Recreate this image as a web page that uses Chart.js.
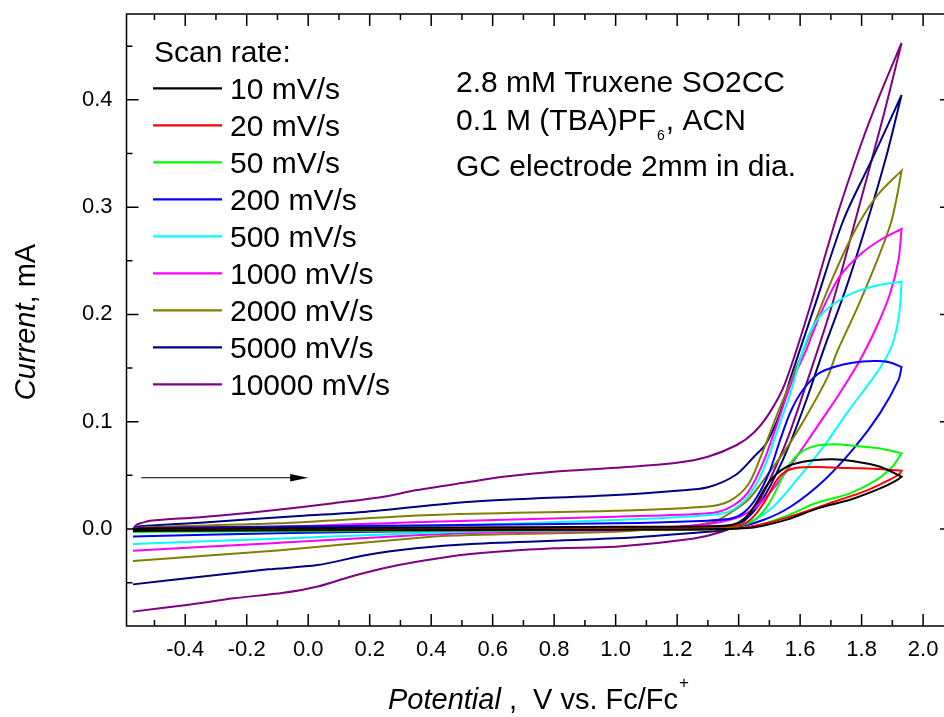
<!DOCTYPE html>
<html>
<head>
<meta charset="utf-8">
<script src="https://cdn.jsdelivr.net/npm/chart.js@4.4.1/dist/chart.umd.min.js"></script>
<style>
html,body{margin:0;padding:0;overflow:hidden;background:#fff;width:944px;height:717px}
#wrap{position:absolute;left:0;top:0;width:960px;height:717px}
canvas{display:block}
</style>
</head>
<body>
<div id="wrap"><canvas id="c" width="960" height="717" style="width:960px;height:717px"></canvas></div>
<script>
// ---------------- data ----------------
const scanRates = ['10 mV/s','20 mV/s','50 mV/s','200 mV/s','500 mV/s','1000 mV/s','2000 mV/s','5000 mV/s','10000 mV/s'];
const lineColors = ['#000000','#ff0000','#00ff00','#0000ff','#00ffff','#ff00ff','#808000','#000080','#800080'];

const xTickValues = [-0.4,-0.2,0.0,0.2,0.4,0.6,0.8,1.0,1.2,1.4,1.6,1.8,2.0];
const xMinorValues = [-0.5,-0.3,-0.1,0.1,0.3,0.5,0.7,0.9,1.1,1.3,1.5,1.7,1.9];
const yTickValues = [0.0,0.1,0.2,0.3,0.4];
const yMinorValues = [-0.05,0.05,0.15,0.25,0.35,0.45];

// [potential V, current mA]  forward scan then reverse scan
const cv10 = [[-0.57,0],[-0.5,0.0005],[0,0.001],[0.5,0.0015],[1.0,0.002],[1.3,0.0025],[1.38,0.004],[1.42,0.01],[1.45,0.021],[1.5,0.044],[1.55,0.057],[1.61,0.0627],[1.7,0.065],[1.77,0.0634],[1.86,0.058],[1.93,0.0488],
  [1.93,0.0488],[1.915,0.0455],[1.87,0.039],[1.77,0.028],[1.66,0.0195],[1.56,0.009],[1.5,0.0045],[1.44,0.0012],[1.3,-0.0003],[1.0,-0.0006],[0.5,-0.0009],[0,-0.0012],[-0.5,-0.0016],[-0.57,-0.0018]];
const cv20 = [[-0.57,0],[-0.5,0.0004],[0,0.0008],[0.5,0.0012],[1.0,0.0016],[1.3,0.002],[1.41,0.004],[1.45,0.012],[1.49,0.028],[1.52,0.044],[1.55,0.053],[1.59,0.057],[1.65,0.0578],[1.76,0.0568],[1.87,0.0558],[1.93,0.0543],
  [1.93,0.0543],[1.922,0.051],[1.89,0.0457],[1.82,0.0363],[1.71,0.0254],[1.6,0.0146],[1.49,0.0053],[1.4,0.0007],[1.3,-0.0002],[1.0,-0.0004],[0.5,-0.0006],[0,-0.0008],[-0.5,-0.0011],[-0.57,-0.0013]];
const cv50 = [[-0.57,0],[-0.54,-0.0006],[0,-0.0004],[0.5,0.0],[1.0,0.0005],[1.3,0.001],[1.4,0.003],[1.45,0.008],[1.49,0.02],[1.52,0.035],[1.56,0.058],[1.6,0.071],[1.65,0.0775],[1.71,0.079],[1.78,0.0775],[1.86,0.075],[1.93,0.0705],
  [1.93,0.0705],[1.915,0.064],[1.9,0.058],[1.85,0.046],[1.76,0.033],[1.65,0.024],[1.55,0.0115],[1.44,0.002],[1.3,-0.0005],[1.0,-0.001],[0.5,-0.0015],[0,-0.002],[-0.5,-0.0025],[-0.57,-0.003]];
const cv200 = [[-0.57,0],[-0.55,0.0008],[-0.5,0.0012],[0,0.0025],[0.5,0.0038],[1.0,0.0053],[1.3,0.0078],[1.38,0.01],[1.42,0.016],[1.46,0.03],[1.5,0.053],[1.535,0.083],[1.57,0.11],[1.61,0.13],[1.66,0.145],[1.71,0.151],[1.77,0.155],[1.84,0.1565],[1.89,0.1555],[1.93,0.151],
  [1.93,0.151],[1.92,0.139],[1.86,0.108],[1.78,0.077],[1.68,0.046],[1.57,0.021],[1.48,0.0084],[1.39,0.002],[1.2,0.0],[1.0,-0.0005],[0.5,-0.0015],[-0.1,-0.004],[-0.57,-0.007]];
const cv500 = [[-0.57,0],[-0.54,0.0003],[-0.1,0.0008],[0.4,0.0028],[1.0,0.0084],[1.2,0.011],[1.3,0.013],[1.37,0.0165],[1.43,0.03],[1.48,0.055],[1.53,0.095],[1.57,0.128],[1.6,0.158],[1.63,0.182],[1.67,0.2],[1.72,0.212],[1.78,0.221],[1.85,0.227],[1.93,0.2305],
  [1.93,0.2305],[1.922,0.2],[1.9,0.172],[1.86,0.15],[1.817,0.133],[1.752,0.108],[1.676,0.0767],[1.589,0.0457],[1.513,0.0208],[1.448,0.0084],[1.372,0.0021],[1.2,0.0],[1.0,-0.001],[0.5,-0.0025],[-0.1,-0.009],[-0.57,-0.014]];
const cv1000 = [[-0.57,0],[-0.54,0.0008],[-0.1,0.002],[0.4,0.0068],[1.0,0.0115],[1.3,0.0146],[1.37,0.02],[1.43,0.034],[1.48,0.062],[1.53,0.102],[1.57,0.135],[1.62,0.167],[1.654,0.192],[1.69,0.215],[1.73,0.236],[1.8,0.257],[1.87,0.271],[1.93,0.2796],
  [1.93,0.2796],[1.92,0.2507],[1.893,0.2197],[1.849,0.1885],[1.795,0.1575],[1.752,0.137],[1.714,0.12],[1.676,0.104],[1.611,0.0767],[1.535,0.0457],[1.47,0.024],[1.405,0.0115],[1.318,0.0053],[1.2,0.002],[1.0,-0.0015],[0.5,-0.004],[-0.1,-0.013],[-0.57,-0.0202]];
const cv2000 = [[-0.57,0],[-0.54,0.0015],[-0.1,0.0053],[0.4,0.013],[1.0,0.017],[1.3,0.021],[1.37,0.026],[1.43,0.041],[1.47,0.066],[1.52,0.103],[1.57,0.138],[1.63,0.18],[1.7,0.23],[1.76,0.268],[1.81,0.294],[1.86,0.314],[1.93,0.334],
  [1.93,0.334],[1.915,0.31],[1.895,0.285],[1.85,0.25],[1.784,0.205],[1.72,0.165],[1.69,0.142],[1.63,0.11],[1.56,0.077],[1.49,0.049],[1.43,0.027],[1.37,0.0146],[1.32,0.0068],[1.21,0.002],[1.0,-0.0025],[0.53,-0.0056],[0.4,-0.0072],[-0.1,-0.02],[-0.57,-0.0298]];
const cv5000 = [[-0.57,0],[-0.555,0.002],[-0.535,0.0028],[-0.35,0.0059],[-0.03,0.0121],[0.19,0.0161],[0.53,0.0254],[1.0,0.0317],[1.2,0.0357],[1.3,0.0389],[1.39,0.0503],[1.45,0.0674],[1.49,0.08],[1.535,0.108],[1.567,0.139],[1.65,0.21],[1.741,0.288],[1.838,0.347],[1.93,0.4045],
  [1.93,0.4045],[1.88,0.347],[1.82,0.288],[1.75,0.225],[1.68,0.17],[1.62,0.12],[1.57,0.082],[1.52,0.05],[1.47,0.024],[1.42,0.008],[1.37,0.0],[1.3,-0.0025],[1.0,-0.0087],[0.53,-0.014],[0.35,-0.018],[0.19,-0.0242],[0.03,-0.0336],[-0.13,-0.0376],[-0.35,-0.0444],[-0.57,-0.0516]];
const cv10000 = [[-0.57,0],[-0.56,0.0035],[-0.546,0.0053],[-0.514,0.0078],[-0.351,0.011],[-0.189,0.0152],[-0.026,0.0202],[0.082,0.024],[0.245,0.0301],[0.353,0.0363],[0.527,0.044],[0.635,0.0487],[0.798,0.0534],[1.0,0.0571],[1.199,0.0618],[1.3,0.0674],[1.394,0.0783],[1.45,0.09],[1.5,0.108],[1.55,0.135],[1.63,0.205],[1.72,0.292],[1.8,0.36],[1.86,0.405],[1.93,0.453],
  [1.93,0.453],[1.87,0.384],[1.78,0.288],[1.7,0.205],[1.62,0.135],[1.56,0.085],[1.5,0.045],[1.45,0.018],[1.4,0.005],[1.34,-0.003],[1.25,-0.009],[1.0,-0.0165],[0.8,-0.018],[0.527,-0.0233],[0.353,-0.0305],[0.245,-0.0366],[0.137,-0.0445],[0.028,-0.0538],[-0.08,-0.0594],[-0.243,-0.0646],[-0.395,-0.0708],[-0.57,-0.077]];

const allCurves = [cv10, cv20, cv50, cv200, cv500, cv1000, cv2000, cv5000, cv10000];

// ---------------- chart ----------------
const FONT = '"Liberation Sans", Arial, sans-serif';

const decor = {
  id: 'decor',
  afterDraw(chart) {
    const {ctx, chartArea: a, scales: {x, y}} = chart;
    ctx.save();
    ctx.strokeStyle = '#000';
    ctx.fillStyle = '#000';
    // frame
    ctx.lineWidth = 1.5;
    ctx.strokeRect(a.left, a.top, a.right - a.left, a.bottom - a.top);
    // inward ticks on all four sides
    const tick = (len, vals, axis) => {
      vals.forEach(v => {
        ctx.beginPath();
        if (axis === 'x') {
          const p = x.getPixelForValue(v);
          ctx.moveTo(p, a.bottom); ctx.lineTo(p, a.bottom - len);
          ctx.moveTo(p, a.top); ctx.lineTo(p, a.top + len);
        } else {
          const p = y.getPixelForValue(v);
          ctx.moveTo(a.left, p); ctx.lineTo(a.left + len, p);
          ctx.moveTo(a.right, p); ctx.lineTo(a.right - len, p);
        }
        ctx.stroke();
      });
    };
    tick(12, xTickValues, 'x'); tick(6, xMinorValues, 'x');
    tick(12, yTickValues, 'y'); tick(6, yMinorValues, 'y');

    // legend
    ctx.font = '30px ' + FONT;
    ctx.textBaseline = 'alphabetic';
    ctx.textAlign = 'left';
    ctx.fillText('Scan rate:', a.left + 27.5, 62);
    scanRates.forEach((lab, i) => {
      const ly = 88.3 + i * 37;
      ctx.strokeStyle = lineColors[i];
      ctx.lineWidth = 2.2;
      ctx.beginPath(); ctx.moveTo(a.left + 26.5, ly); ctx.lineTo(a.left + 95.5, ly); ctx.stroke();
      ctx.fillStyle = '#000';
      ctx.fillText(lab, a.left + 103.5, ly + 11);
    });

    // annotation text
    ctx.fillStyle = '#000';
    ctx.font = '30px ' + FONT;
    const ax = 456;
    ctx.fillText('2.8 mM Truxene SO2CC', ax, 92);
    let t1 = '0.1 M (TBA)PF';
    ctx.fillText(t1, ax, 129.5);
    let w = ctx.measureText(t1).width;
    ctx.font = '14px ' + FONT;
    ctx.fillText('6', ax + w + 1, 140);
    let w6 = ctx.measureText('6').width;
    ctx.font = '30px ' + FONT;
    ctx.fillText(', ACN', ax + w + w6 + 2, 129.5);
    ctx.fillText('GC electrode 2mm in dia.', ax, 176);

    // scan direction arrow
    const ay = y.getPixelForValue(0.0478);
    const x0 = x.getPixelForValue(-0.543), x1 = x.getPixelForValue(0.0);
    ctx.strokeStyle = '#000'; ctx.lineWidth = 1;
    ctx.beginPath(); ctx.moveTo(x0, ay); ctx.lineTo(x1 - 10, ay); ctx.stroke();
    ctx.beginPath(); ctx.moveTo(x1, ay); ctx.lineTo(x1 - 18, ay - 3.8); ctx.lineTo(x1 - 18, ay + 3.8); ctx.closePath(); ctx.fill();

    // x title
    const it = 'italic 29px ' + FONT, nm = '29px ' + FONT;
    let tx = 388;
    ctx.font = it; ctx.fillText('Potential', tx, 709);
    tx += ctx.measureText('Potential').width;
    ctx.font = nm; ctx.fillText(' ,  V vs. Fc/Fc', tx, 709);
    tx += ctx.measureText(' ,  V vs. Fc/Fc').width;
    ctx.font = '17px ' + FONT; ctx.fillText('+', tx + 1, 688);

    // y title
    ctx.translate(35, 322);
    ctx.rotate(-Math.PI / 2);
    ctx.font = it; const wi = ctx.measureText('Current').width;
    ctx.font = nm; const wn = ctx.measureText(', mA').width;
    const s = -(wi + wn) / 2;
    ctx.font = it; ctx.fillText('Current', s, 0);
    ctx.font = nm; ctx.fillText(', mA', s + wi, 0);
    ctx.restore();
  }
};

const noPad = s => { s.paddingTop = 0; s.paddingBottom = 0; s.paddingLeft = 0; s.paddingRight = 0; };

new Chart(document.getElementById('c'), {
  type: 'scatter',
  data: {
    datasets: allCurves.map((pts, i) => ({
      label: scanRates[i],
      data: pts.map(p => ({x: p[0], y: p[1]})),
      showLine: true,
      borderColor: lineColors[i],
      backgroundColor: lineColors[i],
      borderWidth: 2,
      pointRadius: 0,
      tension: 0.3,
      fill: false
    }))
  },
  options: {
    responsive: false,
    animation: false,
    devicePixelRatio: 1,
    layout: {padding: {top: 14, right: 8, left: 0, bottom: 0}},
    plugins: {legend: {display: false}, tooltip: {enabled: false}},
    scales: {
      x: {
        type: 'linear', position: 'bottom', min: -0.591, max: 2.094,
        afterFit: s => { s.height = 91; noPad(s); },
        afterBuildTicks: s => { s.ticks = xTickValues.map(v => ({value: v})); },
        grid: {display: false, drawTicks: false},
        border: {display: false},
        ticks: {padding: 11, color: '#000', font: {family: FONT, size: 22}, maxRotation: 0, autoSkip: false,
          callback: v => Number(v).toFixed(1)}
      },
      y: {
        type: 'linear', position: 'left', min: -0.0904, max: 0.48,
        afterFit: s => { s.width = 126.5; noPad(s); },
        afterBuildTicks: s => { s.ticks = yTickValues.map(v => ({value: v})); },
        grid: {display: false, drawTicks: false},
        border: {display: false},
        ticks: {padding: 14, color: '#000', font: {family: FONT, size: 22}, autoSkip: false,
          callback: v => Number(v).toFixed(1)}
      }
    }
  },
  plugins: [decor]
});
</script>
</body>
</html>
